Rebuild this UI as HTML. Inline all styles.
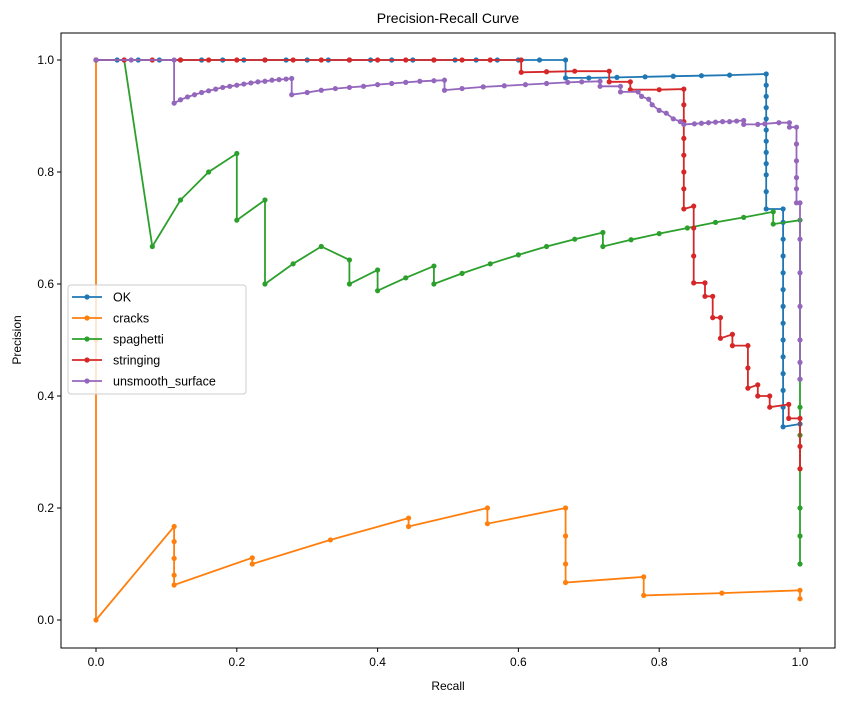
<!DOCTYPE html>
<html><head><meta charset="utf-8"><style>
body{margin:0;background:#fff;}
svg text{font-family:"Liberation Sans","DejaVu Sans",sans-serif;fill:#000;}
</style></head><body>
<svg id="chart" width="846" height="701" xmlns="http://www.w3.org/2000/svg">
<rect x="0" y="0" width="846" height="701" fill="#fff"/>
<text x="448" y="23" font-size="14" text-anchor="middle">Precision-Recall Curve</text>
<g id="plot"></g>
<rect x="61" y="33" width="774" height="615" fill="none" stroke="#000" stroke-width="1"/>
<g id="axes"></g>
<text x="448" y="690" font-size="12" text-anchor="middle">Recall</text>
<text x="21" y="340" font-size="12" text-anchor="middle" transform="rotate(-90 21 340)">Precision</text>
<g id="legend">
<rect x="68" y="285" width="178" height="109" rx="3" fill="#fff" fill-opacity="0.8" stroke="#ccc"/>
</g>
</svg>
<script>
const seriesNames=["OK","cracks","spaghetti","stringing","unsmooth_surface"];
const seriesColors=["#1f77b4","#ff7f0e","#2ca02c","#d62728","#9467bd"];
const xTicks=[0,0.2,0.4,0.6,0.8,1.0];
const yTicks=[0,0.2,0.4,0.6,0.8,1.0];
const okRecall=[0,0.03,0.06,0.09,0.12,0.15,0.18,0.21,0.24,0.27,0.3,0.33,0.36,0.39,0.42,0.45,0.48,0.51,0.54,0.57,0.6,0.63,0.667,0.667,0.7,0.74,0.78,0.82,0.86,0.9,0.952,0.952,0.952,0.952,0.952,0.952,0.952,0.952,0.952,0.952,0.952,0.952,0.976,0.976,0.976,0.976,0.976,0.976,0.976,0.976,0.976,0.976,0.976,0.976,0.976,0.976,1.0];
const okPrecision=[1,1,1,1,1,1,1,1,1,1,1,1,1,1,1,1,1,1,1,1,1,1,1,0.968,0.968,0.969,0.97,0.971,0.972,0.973,0.975,0.955,0.935,0.915,0.895,0.875,0.855,0.835,0.815,0.795,0.765,0.734,0.734,0.71,0.68,0.65,0.62,0.59,0.56,0.53,0.5,0.47,0.44,0.41,0.38,0.345,0.35];
const cracksRecall=[0,0,0,0.111,0.111,0.111,0.111,0.111,0.222,0.222,0.333,0.444,0.444,0.556,0.556,0.667,0.667,0.667,0.667,0.778,0.778,0.889,1.0,1.0];
const cracksPrecision=[1,0.5,0,0.167,0.14,0.11,0.08,0.0625,0.111,0.1,0.143,0.182,0.167,0.2,0.172,0.2,0.15,0.1,0.067,0.077,0.044,0.048,0.053,0.038];
const spagRecall=[0,0.04,0.08,0.12,0.16,0.2,0.2,0.24,0.24,0.28,0.32,0.36,0.36,0.4,0.4,0.44,0.48,0.48,0.52,0.56,0.6,0.64,0.68,0.72,0.72,0.76,0.8,0.84,0.88,0.92,0.962,0.962,1.0,1.0,1.0,1.0,1.0,1.0,1.0,1.0];
const spagPrecision=[1,1,0.667,0.75,0.8,0.833,0.714,0.75,0.6,0.636,0.667,0.643,0.6,0.625,0.588,0.611,0.632,0.6,0.619,0.636,0.652,0.667,0.68,0.692,0.667,0.679,0.69,0.7,0.71,0.719,0.729,0.707,0.714,0.43,0.38,0.33,0.27,0.2,0.15,0.1];
const strRecall=[0,0.04,0.08,0.12,0.16,0.2,0.24,0.28,0.32,0.36,0.4,0.44,0.48,0.52,0.56,0.604,0.604,0.64,0.68,0.729,0.729,0.759,0.759,0.8,0.835,0.835,0.835,0.835,0.835,0.835,0.835,0.835,0.849,0.849,0.849,0.849,0.865,0.865,0.876,0.876,0.887,0.887,0.904,0.904,0.926,0.926,0.926,0.94,0.94,0.957,0.957,0.984,0.984,1.0,1.0,1.0];
const strPrecision=[1,1,1,1,1,1,1,1,1,1,1,1,1,1,1,1,0.978,0.979,0.98,0.98,0.961,0.961,0.947,0.947,0.948,0.92,0.89,0.86,0.83,0.8,0.77,0.734,0.739,0.7,0.65,0.602,0.602,0.578,0.578,0.54,0.54,0.503,0.51,0.49,0.49,0.45,0.414,0.42,0.4,0.4,0.38,0.385,0.36,0.36,0.31,0.27];
const purRecall=[0,0.05,0.111,0.111,0.12,0.13,0.14,0.15,0.16,0.17,0.18,0.19,0.2,0.21,0.22,0.23,0.24,0.25,0.26,0.27,0.278,0.278,0.3,0.32,0.34,0.36,0.38,0.4,0.42,0.44,0.46,0.48,0.495,0.495,0.52,0.55,0.58,0.61,0.64,0.67,0.69,0.716,0.716,0.745,0.745,0.77,0.775,0.785,0.79,0.8,0.81,0.82,0.83,0.835,0.85,0.86,0.87,0.88,0.89,0.9,0.91,0.92,0.92,0.94,0.95,0.97,0.985,0.985,0.995,0.995,0.995,0.995,0.995,0.995,1.0,1.0,1.0,1.0,1.0,1.0,1.0];
const purPrecision=[1,1,1,0.923,0.929,0.934,0.938,0.942,0.945,0.948,0.951,0.953,0.955,0.957,0.959,0.961,0.962,0.964,0.965,0.966,0.967,0.938,0.942,0.946,0.949,0.951,0.953,0.956,0.958,0.96,0.962,0.963,0.964,0.946,0.949,0.952,0.954,0.956,0.958,0.96,0.961,0.962,0.953,0.953,0.943,0.943,0.935,0.93,0.92,0.91,0.905,0.895,0.89,0.885,0.886,0.887,0.888,0.889,0.89,0.89,0.891,0.892,0.885,0.885,0.886,0.888,0.888,0.88,0.88,0.85,0.82,0.79,0.77,0.745,0.745,0.68,0.62,0.56,0.5,0.46,0.43];
const allRecall=[okRecall,cracksRecall,spagRecall,strRecall,purRecall];
const allPrecision=[okPrecision,cracksPrecision,spagPrecision,strPrecision,purPrecision];
const NS="http://www.w3.org/2000/svg";
function xs(v){return 96+v*704;}
function ys(v){return 620-v*560;}
const plot=document.getElementById('plot');
const axes=document.getElementById('axes');
const legend=document.getElementById('legend');
function mk(tag,attrs,parent){const e=document.createElementNS(NS,tag);for(const k in attrs)e.setAttribute(k,attrs[k]);parent.appendChild(e);return e;}
xTicks.forEach(t=>{
  const l=mk('line',{x1:xs(t),x2:xs(t),y1:648,y2:652,stroke:'#000'},axes);
  
  
  const tx=mk('text',{x:xs(t),y:666,'font-size':12,'text-anchor':'middle'},axes);
  tx.textContent=t.toFixed(1);
  
  
});
yTicks.forEach(t=>{
  const l=mk('line',{x1:57,x2:61,y1:ys(t),y2:ys(t),stroke:'#000'},axes);
  
  
  const tx=mk('text',{x:54,y:ys(t)+4,'font-size':12,'text-anchor':'end'},axes);
  tx.textContent=t.toFixed(1);
  
  
});
seriesNames.forEach((name,i)=>{
  const g=mk('g',{},plot);
  
  
  const R=allRecall[i],P=allPrecision[i];
  const pts=R.map((r,j)=>xs(r).toFixed(1)+','+ys(P[j]).toFixed(1)).join(' ');
  const pl=mk('polyline',{points:pts,fill:'none',stroke:seriesColors[i],'stroke-width':1.8},g);
  
  
  R.forEach((r,j)=>{
    const c=mk('circle',{cx:xs(r),cy:ys(P[j]),r:2.6,fill:seriesColors[i]},g);
    
    
  });
  const ly=297+i*21;
  const ll=mk('line',{x1:72,x2:102,y1:ly,y2:ly,stroke:seriesColors[i],'stroke-width':1.8},legend);
  
  
  mk('circle',{cx:87,cy:ly,r:2.6,fill:seriesColors[i]},legend);
  const lt=mk('text',{x:113,y:ly+4.5,'font-size':12.5},legend);
  lt.textContent=name;
  
  
});
</script>
</body></html>
